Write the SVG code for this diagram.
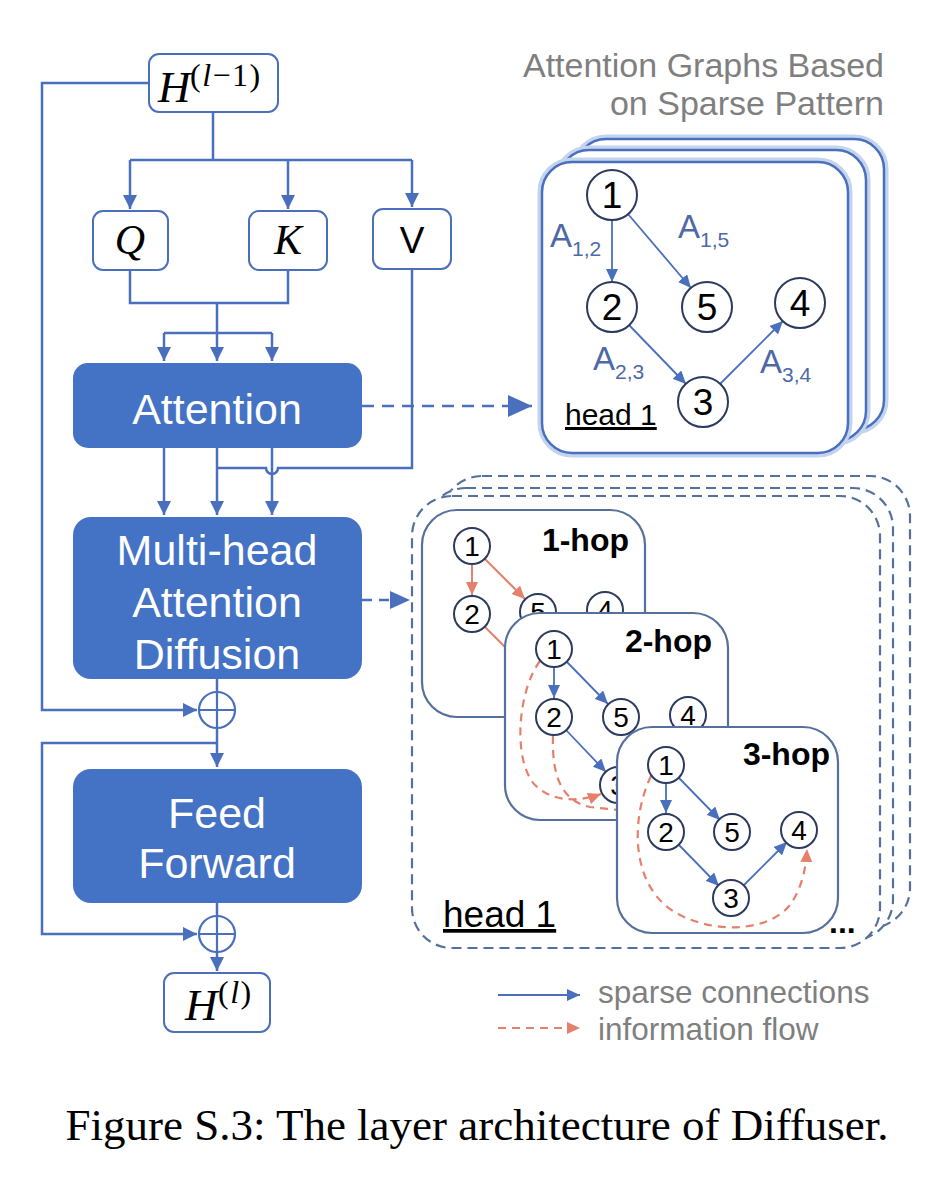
<svg xmlns="http://www.w3.org/2000/svg" width="948" height="1188" viewBox="0 0 948 1188">
<style>
.bg{fill:#ffffff}
.wline{fill:none;stroke:#4a6fbd;stroke-width:2.5}
.outline{fill:#ffffff;stroke:#4a6fbd;stroke-width:2}
.blk{fill:#4472c4}
.wt{font-family:"Liberation Sans",Arial,sans-serif;font-size:43px;fill:#ffffff;text-anchor:middle}
.math{font-family:"Liberation Serif","Times New Roman",serif;font-style:italic;fill:#000}
.sup{font-family:"Liberation Serif","Times New Roman",serif;font-style:normal;fill:#000}
.it{font-style:italic}
.sans{font-family:"Liberation Sans",Arial,sans-serif}
.gray{fill:#7f7f7f}
.card{fill:#ffffff;stroke:#4a6fbd;stroke-width:2.5}
.glow{fill:none;stroke:#c3d4ef;stroke-width:9}
.dcard{fill:#ffffff;stroke:#56709c;stroke-width:2.2;stroke-dasharray:10 6}
.hcard{fill:#ffffff;stroke:#56709c;stroke-width:2.2}
.nd{fill:#ffffff;stroke:#2c3a5e;stroke-width:2}
.ndt{font-family:"Liberation Sans",Arial,sans-serif;fill:#000;text-anchor:middle}
.ge{fill:none;stroke:#4a6fbd;stroke-width:1.8}
.oe{fill:none;stroke:#e5806c;stroke-width:2}
.od{fill:none;stroke:#e5806c;stroke-width:2.2;stroke-dasharray:8 6}
.lbl{font-family:"Liberation Sans",Arial,sans-serif;fill:#4e69a6}
.hop{font-family:"Liberation Sans",Arial,sans-serif;font-weight:bold;font-size:32px;fill:#000;text-anchor:end}
</style>
<defs>
<marker id="arr" markerUnits="userSpaceOnUse" markerWidth="14" markerHeight="14" refX="14" refY="7" orient="auto"><path d="M0,0 L14,7 L0,14 z" fill="#4a6fbd"/></marker>
<marker id="arrBig" markerUnits="userSpaceOnUse" markerWidth="24" markerHeight="22" refX="24" refY="11" orient="auto"><path d="M0,0 L24,11 L0,22 z" fill="#4a6fbd"/></marker>
<marker id="arrM" markerUnits="userSpaceOnUse" markerWidth="20" markerHeight="18" refX="20" refY="9" orient="auto"><path d="M0,0 L20,9 L0,18 z" fill="#4a6fbd"/></marker>
<marker id="arrS" markerUnits="userSpaceOnUse" markerWidth="13" markerHeight="12" refX="13" refY="6" orient="auto"><path d="M0,0 L13,6 L0,12 z" fill="#4a6fbd"/></marker>
<marker id="arrO" markerUnits="userSpaceOnUse" markerWidth="13" markerHeight="12" refX="13" refY="6" orient="auto"><path d="M0,0 L13,6 L0,12 z" fill="#e5806c"/></marker>
</defs>
<rect class="bg" x="0" y="0" width="948" height="1188"/>

<g id="connectors">
  <path class="wline" d="M149,83 H42 V710 H197" marker-end="url(#arr)"/>
  <path class="wline" d="M213,112 V160"/>
  <path class="wline" d="M130,160 H412"/>
  <path class="wline" d="M130,160 V209" marker-end="url(#arr)"/>
  <path class="wline" d="M288,160 V209" marker-end="url(#arr)"/>
  <path class="wline" d="M412,160 V207" marker-end="url(#arr)"/>
  <path class="wline" d="M130,270 V303 H288 V270"/>
  <path class="wline" d="M217,303 V361" marker-end="url(#arr)"/>
  <path class="wline" d="M164,333 H272"/>
  <path class="wline" d="M164,333 V361" marker-end="url(#arr)"/>
  <path class="wline" d="M272,333 V361" marker-end="url(#arr)"/>
  <path class="wline" d="M164,448 V515" marker-end="url(#arr)"/>
  <path class="wline" d="M217,448 V515" marker-end="url(#arr)"/>
  <path class="wline" d="M272,448 V515" marker-end="url(#arr)"/>
  <path class="wline" d="M412,269 V468 H278 A6,6 0 0 1 266,468 H217"/>
  <path class="wline" d="M362,406 H532" stroke-dasharray="12 8" marker-end="url(#arrBig)"/>
  <path class="wline" d="M362,600 H410" stroke-dasharray="10 7" marker-end="url(#arrM)"/>
  <path class="wline" d="M217,679 V767" marker-end="url(#arr)"/>
  <path class="wline" d="M217,743 H42 V934 H197" marker-end="url(#arr)"/>
  <path class="wline" d="M217,903 V971" marker-end="url(#arr)"/>
</g>

<g id="h_prev">
  <rect class="outline" x="149" y="54" width="129" height="58" rx="10"/>
  <text class="math" x="158" y="102" font-size="45">H</text>
  <text class="sup" x="190" y="86" font-size="32" letter-spacing="1.5">(<tspan class="it">l</tspan>−1)</text>
</g>
<g id="q">
  <rect class="outline" x="93" y="211" width="75" height="59" rx="10"/>
  <text class="math" x="130" y="254" font-size="42" text-anchor="middle">Q</text>
</g>
<g id="k">
  <rect class="outline" x="249" y="211" width="78" height="59" rx="10"/>
  <text class="math" x="288" y="254" font-size="42" text-anchor="middle">K</text>
</g>
<g id="v">
  <rect class="outline" x="373" y="209" width="78" height="60" rx="10"/>
  <text class="sans" x="412" y="253" font-size="37" text-anchor="middle" fill="#000">V</text>
</g>
<g id="attention">
  <rect class="blk" x="73" y="363" width="289" height="85" rx="15"/>
  <text class="wt" x="217" y="424">Attention</text>
</g>
<g id="multihead">
  <rect class="blk" x="73" y="517" width="289" height="162" rx="18"/>
  <text class="wt" x="217" y="565">Multi-head</text>
  <text class="wt" x="217" y="617">Attention</text>
  <text class="wt" x="217" y="669">Diffusion</text>
</g>
<g id="plus1">
  <circle cx="217" cy="710" r="18" fill="#fff" stroke="#4a6fbd" stroke-width="2.2"/>
  <path d="M199,710 H235 M217,692 V728" stroke="#4a6fbd" stroke-width="2.2"/>
</g>
<g id="feedforward">
  <rect class="blk" x="73" y="769" width="289" height="134" rx="18"/>
  <text class="wt" x="217" y="828">Feed</text>
  <text class="wt" x="217" y="878">Forward</text>
</g>
<g id="plus2">
  <circle cx="217" cy="934" r="18" fill="#fff" stroke="#4a6fbd" stroke-width="2.2"/>
  <path d="M199,934 H235 M217,916 V952" stroke="#4a6fbd" stroke-width="2.2"/>
</g>
<g id="h_out">
  <rect class="outline" x="164" y="973" width="106" height="59" rx="10"/>
  <text class="math" x="185" y="1020" font-size="45">H</text>
  <text class="sup" x="218" y="1003" font-size="32" letter-spacing="1.5">(<tspan class="it">l</tspan>)</text>
</g>

<g id="attn_title">
  <text class="sans gray" x="884" y="77" font-size="34" text-anchor="end">Attention Graphs Based</text>
  <text class="sans gray" x="884" y="115" font-size="34" text-anchor="end">on Sparse Pattern</text>
</g>
<g id="attn_graph">
  <rect class="glow" x="576" y="139" width="308" height="291" rx="30"/>
  <rect class="card" x="576" y="139" width="308" height="291" rx="30"/>
  <rect class="glow" x="559" y="150" width="307" height="291" rx="30"/>
  <rect class="card" x="559" y="150" width="307" height="291" rx="30"/>
  <rect class="glow" x="542" y="162" width="306" height="291" rx="30"/>
  <rect class="card" x="542" y="162" width="306" height="291" rx="30"/>
  <path class="ge" d="M612,220 V282" marker-end="url(#arrS)"/>
  <path class="ge" d="M628,214 L691,288" marker-end="url(#arrS)"/>
  <path class="ge" d="M629,325 L686,384" marker-end="url(#arrS)"/>
  <path class="ge" d="M720,384 L783,321" marker-end="url(#arrS)"/>
  <circle class="nd" cx="612" cy="195" r="25"/><text class="ndt" x="612" y="208" font-size="37">1</text>
  <circle class="nd" cx="612" cy="307" r="25"/><text class="ndt" x="612" y="320" font-size="37">2</text>
  <circle class="nd" cx="707" cy="307" r="25"/><text class="ndt" x="707" y="320" font-size="37">5</text>
  <circle class="nd" cx="800" cy="303" r="25"/><text class="ndt" x="800" y="316" font-size="37">4</text>
  <circle class="nd" cx="703" cy="402" r="25"/><text class="ndt" x="703" y="415" font-size="37">3</text>
  <text class="lbl" x="550" y="247" font-size="33">A<tspan font-size="21" dy="9">1,2</tspan></text>
  <text class="lbl" x="678" y="238" font-size="33">A<tspan font-size="21" dy="9">1,5</tspan></text>
  <text class="lbl" x="593" y="370" font-size="33">A<tspan font-size="21" dy="9">2,3</tspan></text>
  <text class="lbl" x="760" y="373" font-size="33">A<tspan font-size="21" dy="9">3,4</tspan></text>
  <text class="sans" x="565" y="425" font-size="30" fill="#000" text-decoration="underline">head 1</text>
</g>

<g id="diffusion">
  <rect class="dcard" x="442" y="476" width="468" height="452" rx="40"/>
  <rect class="dcard" x="426" y="488" width="467" height="452" rx="40"/>
  <rect class="dcard" x="412" y="496" width="468" height="452" rx="40"/>
  <text class="sans" x="443" y="927" font-size="37" fill="#000" text-decoration="underline">head 1</text>
  <text class="sans" x="829" y="933" font-size="32" font-weight="bold" fill="#000">...</text>
</g>
<g id="hop1">
  <rect class="hcard" x="422" y="510" width="223" height="207" rx="35"/>
  <text class="hop" x="629" y="551">1-hop</text>
  <path class="oe" d="M472,564 V595" marker-end="url(#arrO)"/>
  <path class="oe" d="M485,559 L525,599" marker-end="url(#arrO)"/>
  <path class="oe" d="M485,627 L535,677"/>
  <circle class="nd" cx="472" cy="546" r="18"/><text class="ndt" x="472" y="556" font-size="28">1</text>
  <circle class="nd" cx="472" cy="614" r="18"/><text class="ndt" x="472" y="624" font-size="28">2</text>
  <circle class="nd" cx="538" cy="612" r="18"/><text class="ndt" x="538" y="622" font-size="28">5</text>
  <circle class="nd" cx="605" cy="610" r="18"/><text class="ndt" x="605" y="620" font-size="28">4</text>
</g>
<g id="hop2">
  <rect class="hcard" x="505" y="613" width="223" height="207" rx="35"/>
  <text class="hop" x="712" y="652">2-hop</text>
  <path class="ge" d="M554,667 V698" marker-end="url(#arrS)"/>
  <path class="ge" d="M567,662 L608,704" marker-end="url(#arrS)"/>
  <path class="ge" d="M566,730 L606,772" marker-end="url(#arrS)"/>
  <path class="od" d="M540,661 C518,690 512,760 535,785 C555,805 585,800 601,794" marker-end="url(#arrO)"/>
  <path class="od" d="M553,736 C552,770 558,800 590,807 L628,811"/>
  <circle class="nd" cx="554" cy="649" r="18"/><text class="ndt" x="554" y="659" font-size="28">1</text>
  <circle class="nd" cx="554" cy="717" r="18"/><text class="ndt" x="554" y="727" font-size="28">2</text>
  <circle class="nd" cx="621" cy="717" r="18"/><text class="ndt" x="621" y="727" font-size="28">5</text>
  <circle class="nd" cx="688" cy="715" r="18"/><text class="ndt" x="688" y="725" font-size="28">4</text>
  <circle class="nd" cx="618" cy="785" r="18"/><text class="ndt" x="618" y="795" font-size="28">3</text>
</g>
<g id="hop3">
  <rect class="hcard" x="617" y="727" width="221" height="206" rx="35"/>
  <text class="hop" x="830" y="765">3-hop</text>
  <path class="ge" d="M666,783 V813" marker-end="url(#arrS)"/>
  <path class="ge" d="M679,778 L720,820" marker-end="url(#arrS)"/>
  <path class="ge" d="M679,845 L719,886" marker-end="url(#arrS)"/>
  <path class="ge" d="M744,885 L787,842" marker-end="url(#arrS)"/>
  <path class="od" d="M651,776 C630,820 630,890 680,915 C720,935 770,930 790,905 C802,888 806,868 807,849" marker-end="url(#arrO)"/>
  <circle class="nd" cx="666" cy="765" r="18"/><text class="ndt" x="666" y="775" font-size="28">1</text>
  <circle class="nd" cx="666" cy="832" r="18"/><text class="ndt" x="666" y="842" font-size="28">2</text>
  <circle class="nd" cx="732" cy="832" r="18"/><text class="ndt" x="732" y="842" font-size="28">5</text>
  <circle class="nd" cx="799" cy="830" r="18"/><text class="ndt" x="799" y="840" font-size="28">4</text>
  <circle class="nd" cx="731" cy="898" r="18"/><text class="ndt" x="731" y="908" font-size="28">3</text>
</g>

<g id="legend">
  <path d="M498,995 H580" stroke="#4a6fbd" stroke-width="2.2" marker-end="url(#arrS)"/>
  <text class="sans gray" x="598" y="1003" font-size="31.5">sparse connections</text>
  <path d="M498,1028 H580" stroke="#e5806c" stroke-width="2.2" stroke-dasharray="8 6" marker-end="url(#arrO)"/>
  <text class="sans gray" x="598" y="1040" font-size="31.5">information flow</text>
</g>

<g id="caption">
  <text x="477" y="1140" font-family="'Liberation Serif','Times New Roman',serif" font-size="45" text-anchor="middle" fill="#000">Figure S.3: The layer architecture of Diffuser.</text>
</g>
</svg>
